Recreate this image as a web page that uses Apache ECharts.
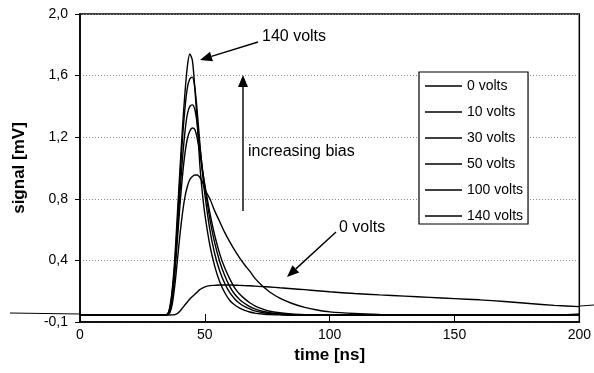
<!DOCTYPE html>
<html>
<head>
<meta charset="utf-8">
<script src="https://cdn.jsdelivr.net/npm/echarts@6/dist/echarts.min.js"></script>
<style>html,body{margin:0;padding:0;background:#fff}#c{width:594px;height:373px}</style>
</head>
<body>
<div id="c"></div>
<script>
// time [ns]
const times = [0,5,10,15,20,25,30,33,35,36,37,38,39,40,41,42,43,44,45,46,47,48,49,50,52,54,56,58,60,62,64,66,68,70,73,76,80,85,90,95,100,110,120,130,140,150,160,170,180,190,200];
// signal values for each bias (axis units as drawn)
const v0 = [0.044,0.045,0.043,0.046,0.044,0.045,0.044,0.046,0.045,
  0.045,0.046,0.048,0.055,0.07,0.09,0.11,0.13,0.15,0.165,0.18,0.195,0.21,0.22,0.228,
  0.236,0.238,0.24,0.24,0.24,0.239,0.238,0.236,0.235,0.233,0.23,0.227,
  0.222,0.216,0.21,0.203,0.196,0.185,0.176,0.168,0.16,0.152,0.144,0.133,0.12,0.108,0.1];
const v10 = [0.045,0.044,0.046,0.045,0.043,0.044,0.046,0.044,0.047,
  0.06,0.12,0.24,0.40,0.56,0.70,0.81,0.88,0.925,0.945,0.955,0.955,0.94,0.91,0.86,
  0.80,0.72,0.65,0.58,0.52,0.465,0.415,0.37,0.33,0.285,0.235,0.195,
  0.155,0.12,0.095,0.078,0.066,0.055,0.049,0.046,0.044,0.047,0.045,0.043,0.046,0.044,0.048];
const v30 = [0.043,0.045,0.046,0.044,0.043,0.046,0.044,0.045,0.048,
  0.07,0.16,0.32,0.53,0.75,0.94,1.09,1.19,1.24,1.26,1.25,1.19,1.10,0.99,0.89,
  0.71,0.56,0.44,0.35,0.28,0.22,0.18,0.15,0.125,0.105,0.085,0.07,
  0.06,0.052,0.048,0.046,0.044,0.047,0.045,0.043,0.046,0.044,0.047,0.045,0.043,0.046,0.05];
const v50 = [0.046,0.044,0.045,0.043,0.047,0.045,0.043,0.046,0.049,
  0.08,0.18,0.35,0.58,0.83,1.05,1.23,1.35,1.40,1.41,1.38,1.28,1.14,1.00,0.88,
  0.67,0.51,0.39,0.30,0.23,0.18,0.145,0.12,0.10,0.085,0.07,0.06,
  0.052,0.048,0.045,0.047,0.044,0.046,0.043,0.045,0.047,0.044,0.046,0.043,0.047,0.045,0.049];
const v100 = [0.044,0.046,0.043,0.047,0.045,0.044,0.046,0.045,0.05,
  0.09,0.20,0.38,0.64,0.92,1.18,1.38,1.52,1.58,1.59,1.52,1.36,1.16,0.98,0.83,
  0.60,0.44,0.33,0.25,0.19,0.15,0.12,0.10,0.085,0.072,0.062,0.055,
  0.05,0.047,0.044,0.046,0.045,0.043,0.047,0.044,0.046,0.045,0.043,0.047,0.044,0.048,0.046];
const v140 = [0.045,0.043,0.047,0.044,0.046,0.043,0.045,0.046,0.05,
  0.10,0.22,0.42,0.70,0.98,1.25,1.48,1.66,1.74,1.70,1.52,1.28,1.02,0.84,0.70,
  0.50,0.36,0.26,0.19,0.14,0.11,0.09,0.075,0.065,0.058,0.052,0.048,
  0.046,0.044,0.047,0.043,0.046,0.044,0.047,0.043,0.045,0.048,0.044,0.046,0.043,0.047,0.045];
const seriesNames = ['0 volts','10 volts','30 volts','50 volts','100 volts','140 volts'];
const seriesValues = [v0, v10, v30, v50, v100, v140];
const yTickValues = [0, 0.4, 0.8, 1.2, 1.6, 2.0];
const yTickLabels = ['-0,1', '0,4', '0,8', '1,2', '1,6', '2,0'];
const xTickLabels = ['0', '50', '100', '150', '200'];

const FONT = 'Liberation Sans, Arial, sans-serif';
const chart = echarts.init(document.getElementById('c'), null, {renderer: 'canvas'});

function arrow(x1, y1, x2, y2) {
  const dx = x2 - x1, dy = y2 - y1, L = Math.sqrt(dx*dx + dy*dy);
  const ux = dx / L, uy = dy / L, hl = 12, hw = 5;
  const bx = x2 - ux*hl, by = y2 - uy*hl;
  return [
    {type: 'line', shape: {x1: x1, y1: y1, x2: bx, y2: by}, style: {stroke: '#000', lineWidth: 1.4}, z: 100},
    {type: 'polygon', shape: {points: [[x2, y2], [bx - uy*hw, by + ux*hw], [bx + uy*hw, by - ux*hw]]}, style: {fill: '#000'}, z: 100}
  ];
}
function label(text, x, y) {
  return {type: 'text', left: x, top: y - 9, style: {text: text, fill: '#000', font: '16px ' + FONT}, z: 100};
}

const option = {
  animation: false,
  backgroundColor: '#fff',
  textStyle: {fontFamily: FONT},
  grid: {left: 80, right: 14, top: 14, bottom: 51, show: true, borderColor: '#000', borderWidth: 1.5, backgroundColor: 'transparent'},
  legend: {
    data: seriesNames,
    orient: 'vertical',
    left: 419, top: 72,
    icon: 'rect', itemWidth: 37, itemHeight: 1.4, itemGap: 10,
    padding: [6, 5, 0, 6],
    borderColor: '#000', borderWidth: 1.2, backgroundColor: '#fff',
    textStyle: {fontSize: 14, color: '#000', fontFamily: FONT, lineHeight: 16}
  },
  xAxis: {
    type: 'value', min: 0, max: 200, interval: 50,
    name: 'time [ns]', nameLocation: 'middle', nameGap: 23,
    nameTextStyle: {fontSize: 17, fontWeight: 'bold', color: '#000', fontFamily: FONT},
    axisLine: {show: true, onZero: false, lineStyle: {color: '#000', width: 1.5}},
    axisTick: {show: true, inside: true, length: 8, lineStyle: {color: '#000'}},
    axisLabel: {fontSize: 14, color: '#000', margin: 6, fontFamily: FONT,
      formatter: function (v) { return xTickLabels[Math.round(v / 50)]; }},
    splitLine: {show: false}
  },
  yAxis: {
    type: 'value', min: 0, max: 2.0, interval: 0.4,
    name: 'signal [mV]', nameLocation: 'middle', nameGap: 52,
    nameTextStyle: {fontSize: 17, fontWeight: 'bold', color: '#000', fontFamily: FONT},
    axisLine: {show: true, onZero: false, lineStyle: {color: '#000', width: 1.5}},
    axisTick: {show: true, inside: false, length: 5, lineStyle: {color: '#000'}},
    axisLabel: {fontSize: 14, color: '#000', margin: 12, fontFamily: FONT,
      formatter: function (v) {
        const i = yTickValues.findIndex(t => Math.abs(t - v) < 1e-6);
        return i >= 0 ? yTickLabels[i] : '';
      }},
    splitLine: {show: true, lineStyle: {color: '#888', type: [1, 2], width: 1}}
  },
  series: seriesNames.map((n, k) => ({
    name: n, type: 'line', showSymbol: false, symbol: 'none', smooth: 0.25,
    color: '#000',
    lineStyle: {color: '#000', width: 1.4},
    data: times.map((t, i) => [t, seriesValues[k][i]])
  })),
  graphic: [].concat(
    [label('140 volts', 262, 38), label('increasing bias', 248, 153), label('0 volts', 339, 229)],
    arrow(258, 42, 200, 60),
    arrow(243, 211, 243, 75),
    arrow(336, 232, 287, 277),
    [
      {type: 'line', shape: {x1: 10, y1: 313, x2: 80, y2: 314}, style: {stroke: '#000', lineWidth: 1}, z: 90},
      {type: 'line', shape: {x1: 580, y1: 306, x2: 594, y2: 305}, style: {stroke: '#000', lineWidth: 1}, z: 90}
    ]
  )
};
chart.setOption(option);
</script>
</body>
</html>
